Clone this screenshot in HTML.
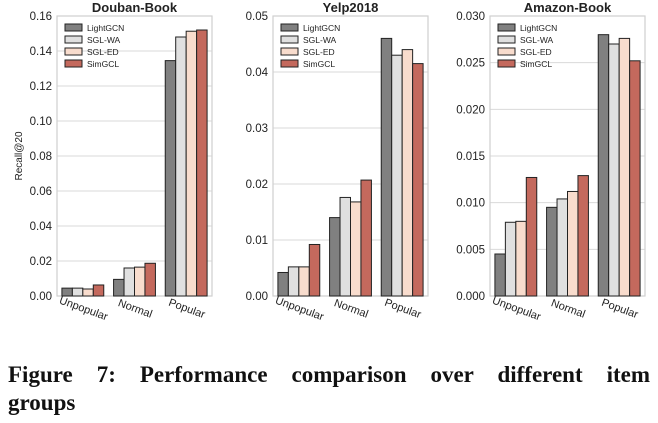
<!DOCTYPE html>
<html><head><meta charset="utf-8"><style>
body{margin:0;width:658px;height:423px;background:#fff;overflow:hidden;font-family:"Liberation Sans",sans-serif}
#cap{position:absolute;left:8px;top:361px;width:642px;font-family:"Liberation Serif",serif;font-weight:bold;font-size:23px;line-height:28px;color:#111}
#cap .l1{text-align:justify;text-align-last:justify}
</style></head><body>
<svg id="chart" width="658" height="350" style="position:absolute;left:0;top:0"></svg>
<div id="cap"><div class="l1">Figure 7: Performance comparison over different item</div><div>groups</div></div>
<script>
const categories=["Unpopular","Normal","Popular"];
const seriesNames=["LightGCN","SGL-WA","SGL-ED","SimGCL"];
const doubanLight=[0.0045,0.0095,0.1345];
const doubanWA=[0.0045,0.016,0.148];
const doubanED=[0.004,0.0165,0.1513];
const doubanSim=[0.0063,0.0187,0.152];
const yelpLight=[0.0042,0.014,0.046];
const yelpWA=[0.0052,0.0176,0.043];
const yelpED=[0.0052,0.0168,0.044];
const yelpSim=[0.0092,0.0207,0.0415];
const amazonLight=[0.0045,0.0095,0.028];
const amazonWA=[0.0079,0.0104,0.027];
const amazonED=[0.008,0.0112,0.0276];
const amazonSim=[0.0127,0.0129,0.0252];
const doubanTicks=["0.00","0.02","0.04","0.06","0.08","0.10","0.12","0.14","0.16"];
const yelpTicks=["0.00","0.01","0.02","0.03","0.04","0.05"];
const amazonTicks=["0.000","0.005","0.010","0.015","0.020","0.025","0.030"];
const colors=["#808080","#e0e0e0","#f8dccd","#c4695d"];
const NS="http://www.w3.org/2000/svg";
const svg=document.getElementById('chart');
function mk(t,a,p){const e=document.createElementNS(NS,t);for(const k in a)e.setAttribute(k,a[k]);(p||svg).appendChild(e);return e;}
function panel(key,title,x0,x1,series,ticks,ylabel){
  const g=mk('g',{});
  
  
  const top=16,bot=296,max=parseFloat(ticks[ticks.length-1]);
  const y=v=>bot-(v/max)*(bot-top);
  const band=(x1-x0)/categories.length,gw=band*0.81,bw=gw/4;
  ticks.forEach(t=>{const v=parseFloat(t),yy=y(v);
    mk('line',{x1:x0,x2:x1,y1:yy,y2:yy,stroke:'#d9d9d9','stroke-width':1},g);
    const tx=mk('text',{x:x0-5,y:yy+4,'text-anchor':'end','font-size':11.5,fill:'#222'},g);tx.textContent=t;
    
    });
  mk('rect',{x:x0,y:top,width:x1-x0,height:bot-top,fill:'none',stroke:'#cfcfcf','stroke-width':1.2},g);
  categories.forEach((c,i)=>{const cx=x0+band*(i+0.5);
    series.forEach((s,j)=>{const r=mk('rect',{x:cx-gw/2+j*bw,y:y(s[i]),width:bw,height:bot-y(s[i]),fill:colors[j],stroke:'#222','stroke-width':1},g);
      
      });
    const lx=cx+2,ly=bot+9;
    const lt=mk('text',{x:lx,y:ly,'text-anchor':'middle','dominant-baseline':'hanging','font-size':11,fill:'#222',transform:`rotate(20 ${lx} ${ly})`},g);lt.textContent=c;
    
    });
  const tt=mk('text',{x:(x0+x1)/2,y:12,'text-anchor':'middle','font-size':13,'font-weight':'bold',fill:'#222'},g);tt.textContent=title;
  
  
  seriesNames.forEach((n,j)=>{const ly=24+j*12;
    const lr=mk('rect',{x:x0+8,y:ly,width:17,height:7,fill:colors[j],stroke:'#222','stroke-width':1},g);
    
    
    const lt=mk('text',{x:x0+30,y:ly+7,'font-size':8.5,fill:'#222'},g);lt.textContent=n;
    
    });
  if(ylabel){const yl=mk('text',{x:22,y:156,'text-anchor':'middle','font-size':10,fill:'#222',transform:'rotate(-90 22 156)'},g);yl.textContent=ylabel;
    
    }
}
panel('douban','Douban-Book',57,212,[doubanLight,doubanWA,doubanED,doubanSim],doubanTicks,'Recall@20');
panel('yelp','Yelp2018',273,428,[yelpLight,yelpWA,yelpED,yelpSim],yelpTicks,null);
panel('amazon','Amazon-Book',490,645,[amazonLight,amazonWA,amazonED,amazonSim],amazonTicks,null);
</script>
</body></html>
